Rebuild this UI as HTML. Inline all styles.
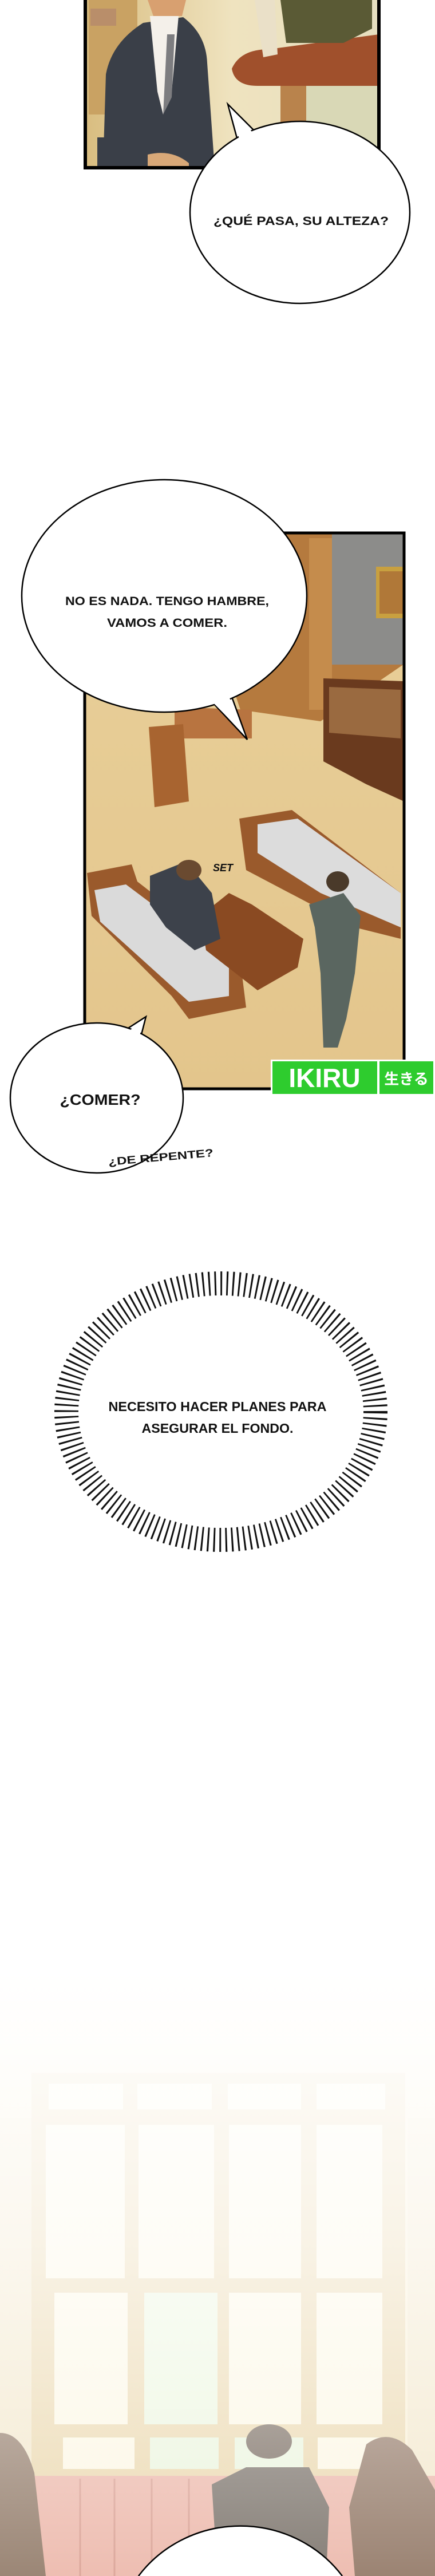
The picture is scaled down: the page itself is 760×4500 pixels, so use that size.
<!DOCTYPE html>
<html><head><meta charset="utf-8"><style>
html,body{margin:0;padding:0;background:#fff;width:760px;height:4500px;overflow:hidden;}
svg{display:block;}
text{font-family:"Liberation Sans",sans-serif;font-weight:bold;fill:#111;}
</style></head><body>
<svg width="760" height="4500" viewBox="0 0 760 4500" xmlns="http://www.w3.org/2000/svg" style="overflow:hidden">
<defs>
<linearGradient id="p1bg" x1="0" y1="0" x2="1" y2="0"><stop offset="0" stop-color="#d9bd80"/><stop offset="0.5" stop-color="#efe3bf"/><stop offset="1" stop-color="#e6dfc0"/></linearGradient>
<linearGradient id="floor" x1="0" y1="0" x2="0" y2="1"><stop offset="0" stop-color="#e9d09a"/><stop offset="1" stop-color="#e3c58c"/></linearGradient>
<linearGradient id="fade" x1="0" y1="0" x2="0" y2="1"><stop offset="0" stop-color="#fff" stop-opacity="1"/><stop offset="0.45" stop-color="#fff" stop-opacity="0.75"/><stop offset="1" stop-color="#fff" stop-opacity="0.25"/></linearGradient>
</defs>
<!-- PANEL 1 -->
<rect x="149" y="0" width="513" height="293" fill="url(#p1bg)"/>
<rect x="155" y="0" width="85" height="200" fill="#c9a263"/>
<rect x="158" y="15" width="45" height="30" fill="#b98e6a"/>
<rect x="535" y="140" width="127" height="153" fill="#d9d8b6"/>
<path d="M405 120 Q420 86 470 86 L662 60 L662 150 L450 150 Q410 150 405 120Z" fill="#a0502c"/>
<rect x="490" y="150" width="45" height="70" fill="#b9834c"/>
<path d="M490 0 L650 0 L650 50 L600 75 L500 75 Z" fill="#5a5a35"/>
<path d="M445 0 L480 0 L485 95 L460 100 Z" fill="#eae0c8"/>
<path d="M180 293 L185 130 Q195 75 250 40 L320 30 Q360 60 362 110 L375 293 Z" fill="#3a3f48"/>
<path d="M262 28 L312 28 L300 160 L285 200 L275 160 Z" fill="#f4f0ea"/>
<path d="M292 60 L305 60 L300 170 L285 200 Z" fill="#7d7d80"/>
<path d="M258 0 L325 0 L318 28 L268 28 Z" fill="#d8a070"/>
<rect x="170" y="240" width="80" height="53" fill="#3a3f48"/>
<path d="M258 270 Q300 260 330 285 L330 293 L258 293Z" fill="#d8a878"/>
<path d="M149 0 L149 293 L662 293 L662 0" fill="none" stroke="#000" stroke-width="6"/>

<!-- bubble 1 -->
<path d="M398 182 L444 228 L415 245 Z" fill="#fff" stroke="#000" stroke-width="2.5"/>
<ellipse cx="524" cy="371" rx="192" ry="159" fill="#fff" stroke="#000" stroke-width="2.5"/>
<path d="M400 186 L440 230 L418 242 Z" fill="#fff"/>
<text x="526" y="393" font-size="21" text-anchor="middle" textLength="306" lengthAdjust="spacingAndGlyphs">¿QUÉ PASA, SU ALTEZA?</text>

<!-- PANEL 2 -->
<rect x="148" y="931" width="558" height="971" fill="url(#floor)"/>
<path d="M400 931 L706 931 L706 1160 L560 1260 L420 1240 L400 1180Z" fill="#b57a3e"/>
<rect x="580" y="931" width="126" height="230" fill="#8c8c8a"/>
<rect x="540" y="940" width="40" height="300" fill="#c58c4c"/>
<rect x="657" y="990" width="49" height="90" fill="#c8a040"/>
<rect x="663" y="998" width="43" height="74" fill="#b07838"/>
<path d="M565 1185 L706 1190 L706 1400 L640 1370 L565 1330Z" fill="#6a3a1e"/>
<path d="M575 1200 L700 1205 L700 1290 L575 1280Z" fill="#9a6a40"/>
<path d="M305 1235 L440 1240 L440 1290 L305 1290Z" fill="#b87440"/>
<path d="M260 1270 L320 1265 L330 1400 L270 1410Z" fill="#a86430"/>
<path d="M418 1430 L510 1415 L700 1560 L700 1640 L620 1620 L430 1520Z" fill="#9a5a2c"/>
<path d="M450 1440 L520 1430 L700 1560 L700 1620 L560 1560 L450 1490Z" fill="#dcdcdc"/>
<path d="M152 1525 L230 1510 L240 1540 L420 1680 L430 1760 L330 1780 L300 1740 L160 1600Z" fill="#9a5a2c"/>
<path d="M165 1555 L220 1545 L400 1680 L400 1740 L330 1750 L175 1610Z" fill="#dadada"/>
<path d="M350 1600 L400 1560 L440 1580 L530 1640 L520 1690 L450 1730 L360 1660Z" fill="#8a4a22"/>
<path d="M262 1530 L325 1505 L370 1560 L385 1640 L340 1660 L290 1620 L262 1580Z" fill="#3d424b"/>
<ellipse cx="330" cy="1520" rx="22" ry="18" fill="#6a4a30"/>
<path d="M540 1580 L600 1560 L630 1600 L620 1700 L605 1780 L590 1830 L565 1830 L560 1700 L550 1620Z" fill="#5a6660"/>
<ellipse cx="590" cy="1540" rx="20" ry="18" fill="#4a3a2a"/>
<text x="372" y="1522" font-size="18" font-style="italic" font-weight="normal">SET</text>
<rect x="148" y="931" width="558" height="971" fill="none" stroke="#000" stroke-width="5"/>

<!-- IKIRU logo -->
<rect x="473" y="1851" width="285" height="63" fill="#fff"/>
<rect x="476" y="1854" width="183" height="57" fill="#2ecc2e"/>
<rect x="663" y="1854" width="94" height="57" fill="#2ecc2e"/>
<text x="567" y="1899" font-size="46" text-anchor="middle" style="fill:#fff" font-weight="900">IKIRU</text>
<text x="710" y="1894" font-size="26" text-anchor="middle" style="fill:#fff;font-family:'Liberation Sans','Noto Sans CJK JP',sans-serif">生きる</text>

<!-- bubble 2 -->
<path d="M432 1292 L395 1190 L360 1215 Z" fill="#fff" stroke="#000" stroke-width="2.5"/>
<ellipse cx="287" cy="1041" rx="249" ry="203" fill="#fff" stroke="#000" stroke-width="2.5"/>
<path d="M428 1284 L393 1200 L365 1220 Z" fill="#fff"/>
<text x="292" y="1057" font-size="21" text-anchor="middle" textLength="356" lengthAdjust="spacingAndGlyphs">NO ES NADA. TENGO HAMBRE,</text>
<text x="292" y="1095" font-size="21" text-anchor="middle" textLength="210" lengthAdjust="spacingAndGlyphs">VAMOS A COMER.</text>

<!-- bubble 3 -->
<path d="M255 1776 L210 1805 L245 1815 Z" fill="#fff" stroke="#000" stroke-width="2.5"/>
<ellipse cx="169" cy="1918" rx="151" ry="131" fill="#fff" stroke="#000" stroke-width="2.5"/>
<path d="M252 1782 L215 1808 L243 1812 Z" fill="#fff"/>
<text x="175" y="1930" font-size="26" text-anchor="middle" textLength="141" lengthAdjust="spacingAndGlyphs">¿COMER?</text>
<text x="281" y="2028" font-size="19" text-anchor="middle" textLength="184" lengthAdjust="spacingAndGlyphs" transform="rotate(-5 281 2022)">¿DE REPENTE?</text>

<!-- burst bubble -->
<ellipse cx="386" cy="2466" rx="270" ry="224" fill="none" stroke="#111" stroke-width="42" stroke-dasharray="3 7.5"/>
<ellipse cx="386" cy="2466" rx="247" ry="203" fill="#fff"/>
<text x="380" y="2465" font-size="23" text-anchor="middle" textLength="381" lengthAdjust="spacingAndGlyphs">NECESITO HACER PLANES PARA</text>
<text x="380" y="2503" font-size="23" text-anchor="middle" textLength="265" lengthAdjust="spacingAndGlyphs">ASEGURAR EL FONDO.</text>

<!-- bottom faded panel -->
<rect x="0" y="3440" width="760" height="1060" fill="#f8eccc"/>
<rect x="0" y="3700" width="70" height="800" fill="#f0e2c0"/>
<rect x="712" y="3700" width="48" height="800" fill="#f0e2c0"/>
<rect x="55" y="3621" width="653" height="704" fill="#e6cf9c"/>
<g fill="#fbf5de">
<rect x="85" y="3640" width="130" height="45"/><rect x="240" y="3640" width="130" height="45"/><rect x="398" y="3640" width="128" height="45"/><rect x="553" y="3640" width="120" height="45"/>
<rect x="80" y="3712" width="138" height="268"/><rect x="242" y="3712" width="132" height="268"/><rect x="400" y="3712" width="126" height="268"/><rect x="553" y="3712" width="115" height="268"/>
<rect x="95" y="4005" width="128" height="230"/><rect x="400" y="4005" width="126" height="230"/><rect x="553" y="4005" width="115" height="230"/>
<rect x="110" y="4258" width="125" height="55"/><rect x="555" y="4258" width="113" height="55"/>
</g>
<rect x="252" y="4005" width="128" height="230" fill="#e8f4d8"/>
<rect x="262" y="4258" width="120" height="55" fill="#e6f2d6"/>
<rect x="410" y="4258" width="120" height="55" fill="#e6f2d6"/>
<rect x="0" y="4325" width="760" height="175" fill="#e8a898"/>
<g stroke="#d08a7a" stroke-width="3"><line x1="140" y1="4330" x2="140" y2="4500"/><line x1="200" y1="4330" x2="200" y2="4500"/><line x1="265" y1="4330" x2="265" y2="4500"/><line x1="330" y1="4330" x2="330" y2="4500"/></g>
<path d="M370 4340 L430 4310 L540 4310 L575 4380 L570 4500 L380 4500Z" fill="#5e544a"/>
<ellipse cx="470" cy="4265" rx="40" ry="30" fill="#5a4a3c"/>
<path d="M640 4270 Q680 4240 720 4280 L760 4350 L760 4500 L620 4500 L610 4380Z" fill="#7a5a44"/>
<path d="M0 4250 Q40 4250 60 4320 L80 4500 L0 4500Z" fill="#7a5e48"/>
<rect x="0" y="3440" width="760" height="1060" fill="url(#fade)"/>

<!-- bottom bubble (clipped at page edge) -->
<path d="M242 4500 A220 212 0 0 1 598 4500 Z" fill="#fff"/>
<path d="M242 4500 A220 212 0 0 1 598 4500" fill="none" stroke="#000" stroke-width="2.5"/>
</svg>
</body></html>
